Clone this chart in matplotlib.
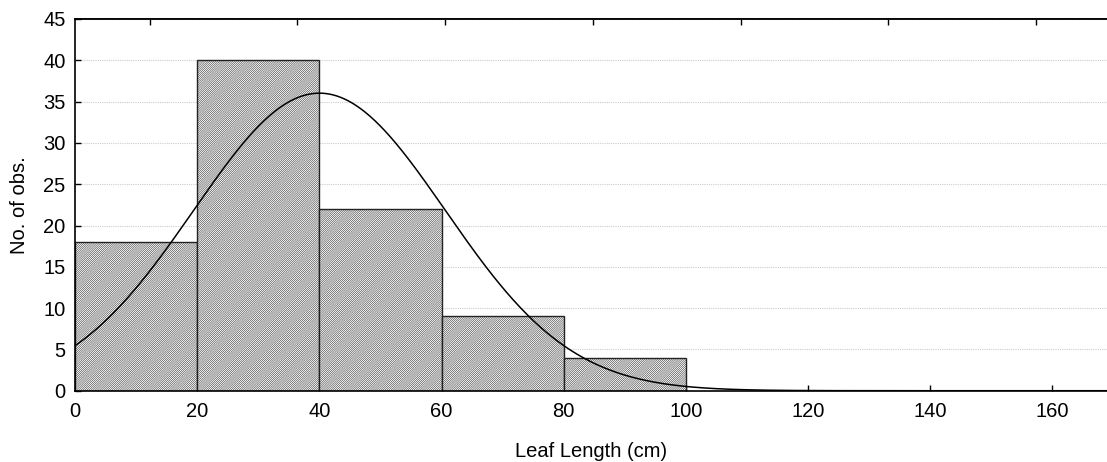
import numpy as np
import matplotlib
matplotlib.use("Agg")
import matplotlib.pyplot as plt

plt.rcParams['font.family'] = ['Liberation Sans', 'DejaVu Sans']
plt.rcParams['hatch.linewidth'] = 0.35
plt.rcParams['hatch.color'] = '#555555'

# Data
bin_edges = [0, 20, 40, 60, 80, 100]
counts = [18, 40, 22, 9, 4]
fit_mean = 40.0
fit_sd = 20.6
x_ticks = [0, 20, 40, 60, 80, 100, 120, 140, 160]
y_ticks = [0, 5, 10, 15, 20, 25, 30, 35, 40, 45]

fig = plt.figure(figsize=(11.07, 4.62), dpi=100)
ax = fig.add_axes([0.068, 0.1543, 0.932, 0.8046])

lefts = bin_edges[:-1]
widths = np.diff(bin_edges)
ax.bar(lefts, counts, width=widths, align='edge', facecolor='white',
       edgecolor='#222222', linewidth=1.0, hatch='/' * 16, zorder=2)

n = sum(counts)
bw = widths[0]
xs = np.linspace(0, 170, 600)
ys = n * bw / (fit_sd * np.sqrt(2 * np.pi)) * np.exp(-0.5 * ((xs - fit_mean) / fit_sd) ** 2)
ax.plot(xs, ys, color='black', linewidth=1.1, zorder=3)

ax.set_xlim(0, 169)
ax.set_ylim(0, 45)
ax.set_xticks(x_ticks)
ax.set_yticks(y_ticks)
ax.yaxis.grid(True, linestyle=(0, (1, 1)), color='#cccccc', linewidth=0.8, zorder=0)
ax.set_axisbelow(True)

ax.tick_params(axis='both', direction='in', length=4, width=1, labelsize=14.5)
ax.tick_params(axis='y', pad=7)
ax.tick_params(axis='x', pad=8)
ax.spines['right'].set_visible(False)
for s in ['left', 'top', 'bottom']:
    ax.spines[s].set_linewidth(1.2)

top = ax.secondary_xaxis('top')
top.set_xticks([12.2 + 24.2 * i for i in range(7)])
top.set_xticklabels([])
top.tick_params(direction='in', length=4, width=1)
top.spines['top'].set_linewidth(1.2)

ax.set_xlabel('Leaf Length (cm)', fontsize=14.5, labelpad=15)
ax.set_ylabel('No. of obs.', fontsize=14.5, labelpad=10)

fig.savefig('out.png', dpi=100)
